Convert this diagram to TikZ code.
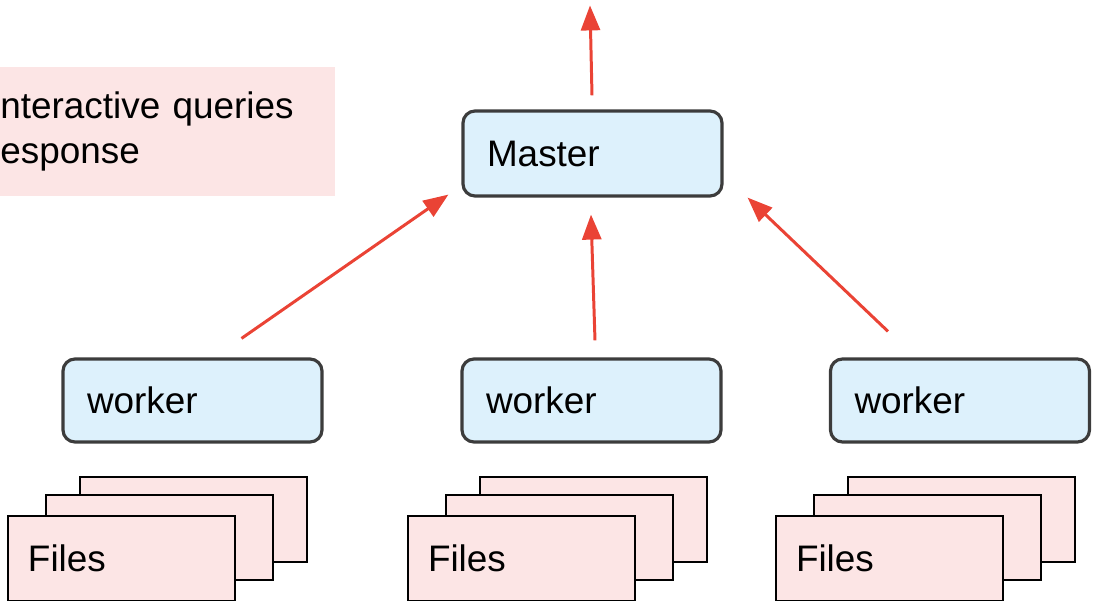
\documentclass[tikz,border=0pt]{standalone}
\usepackage{fontspec}
\setmainfont{Liberation Sans}
\usetikzlibrary{arrows.meta, positioning}

\definecolor{boxblue}{HTML}{DDF1FC}
\definecolor{notepink}{HTML}{FCE5E5}
\definecolor{edgegray}{HTML}{3C3C3C}
\definecolor{flowred}{HTML}{EA4335}

\begin{document}
\begin{tikzpicture}[
	every node/.style={font=\fontsize{21}{26}\selectfont},
	proc/.style={draw=edgegray, line width=1.8pt, fill=boxblue, rounded corners=0.24cm,
		minimum width=5.18cm, inner xsep=0.48cm, text width=4.22cm, align=left},
	filebox/.style={draw=black, line width=0.8pt, fill=notepink,
		minimum width=4.54cm, minimum height=1.7cm, inner xsep=0.4cm, text width=3.74cm, align=left},
	flow/.style={draw=flowred, line width=1.7pt, -{Triangle[length=0.5cm, width=0.38cm]}}
	]
	\clip (0,0) rectangle (21.9,12);

	% note box, runs off the left side
	\node (note) [fill=notepink, anchor=west, inner xsep=0.6cm, text width=6.1cm,
		minimum height=2.58cm, align=left] at (-0.6,9.37) {nteractive queries\\esponse};

	\node (master) [proc, minimum height=1.7cm] at (11.85,8.93) {Master};

	\node (w1) [proc, minimum height=1.66cm] at (3.85,3.99) {worker};
	\node (w2) [proc, minimum height=1.66cm] at (11.83,3.99) {worker};
	\node (w3) [proc, minimum height=1.66cm] at (19.2,3.99) {worker};

	% stacks of files under each worker
	\foreach \i/\x in {1/2.43, 2/10.43, 3/17.79} {
		\node (back\i) [filebox] at (\x+1.44,1.61) {};
		\node (mid\i) [filebox] at (\x+0.76,1.25) {};
		\node (files\i) [filebox] at (\x,0.83) {Files};
	}

	\coordinate (out) at ([xshift=-0.05cm, yshift=2.08cm]master.north);

	\draw[flow] ([xshift=0.98cm, yshift=0.38cm]w1.north) -- ([xshift=-0.26cm, yshift=0.06cm]master.south west);
	\draw[flow] ([xshift=0.07cm, yshift=0.34cm]w2.north) -- ([xshift=-0.03cm, yshift=-0.34cm]master.south);
	\draw[flow] ([xshift=-1.44cm, yshift=0.52cm]w3.north) -- ([xshift=0.48cm]master.south east);
	\draw[flow] ([xshift=-0.01cm, yshift=0.28cm]master.north) -- (out);

\end{tikzpicture}
\end{document}
